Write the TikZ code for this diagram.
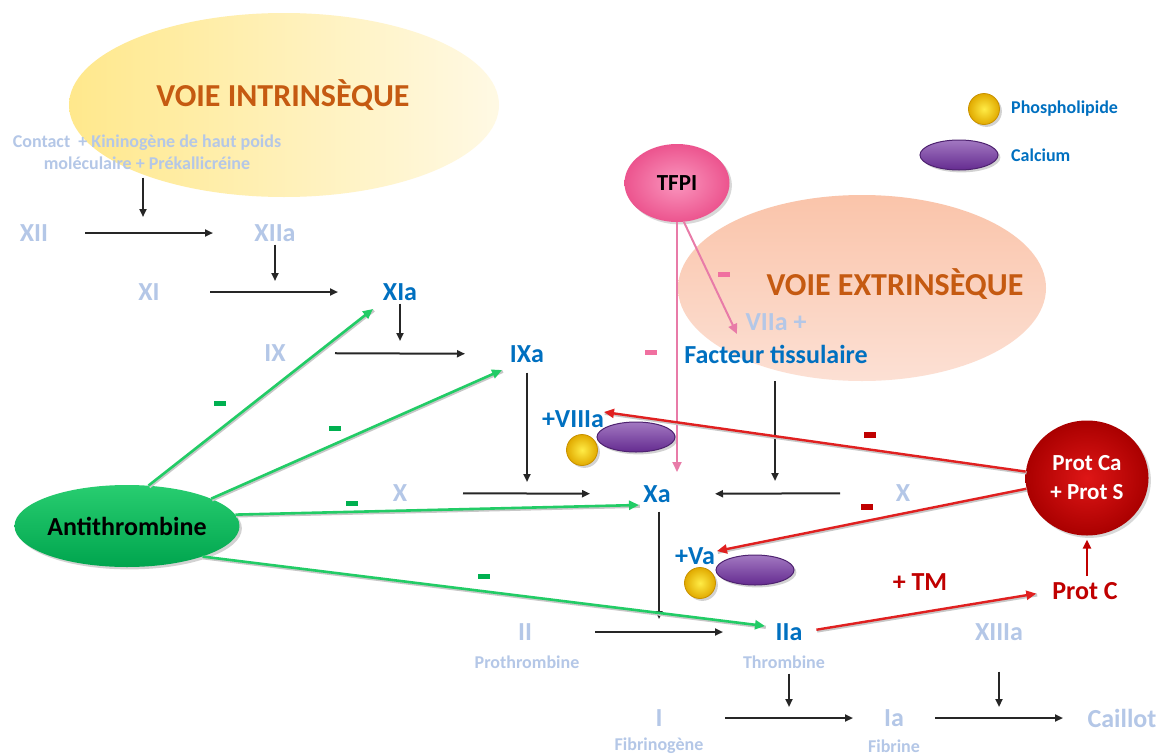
\documentclass[tikz,border=0pt]{standalone}
\usepackage{fontspec}
\setmainfont{Carlito}
\usetikzlibrary{arrows.meta,shapes.geometric,shadows}
\definecolor{pale}{HTML}{B4C7E7}
\definecolor{act}{HTML}{0070C0}
\definecolor{orng}{HTML}{C55A11}
\definecolor{dred}{HTML}{C00000}
\definecolor{gline}{HTML}{22CC66}
\definecolor{gdash}{HTML}{00B050}
\definecolor{rline}{HTML}{E02020}
\definecolor{pline}{HTML}{E87BA8}
\definecolor{pdash}{HTML}{F070A0}
\definecolor{purp}{HTML}{7030A0}
\begin{document}
\begin{tikzpicture}[x=1pt,y=-1pt,
  lbl/.style={inner sep=0pt,font=\bfseries\fontsize{26}{28}\selectfont},
  palelbl/.style={lbl,text=pale},
  actlbl/.style={lbl,text=act},
  smalllbl/.style={inner sep=0pt,font=\bfseries\fontsize{18}{22}\selectfont,text=pale},
  title/.style={inner sep=0pt,font=\bfseries\fontsize{32}{34}\selectfont,text=orng},
  minus/.style={rectangle,inner sep=0pt,minimum width=12pt,minimum height=5pt},
  lineshadow/.style={preaction={draw=black!22,line width=3.2pt,-,transform canvas={xshift=0.8pt,yshift=-1.3pt}}},
  rxn/.style={-{Triangle[length=8pt,width=7pt]},line width=2pt,black!85},
  garr/.style={-{Triangle[length=10pt,width=9pt]},line width=2.6pt,gline,lineshadow},
  rarr/.style={-{Triangle[length=10pt,width=9pt]},line width=2.4pt,rline,lineshadow},
  parr/.style={-{Triangle[length=10pt,width=9pt]},line width=2pt,pline},
  calc/.style={ellipse,minimum width=78pt,minimum height=30pt,draw=purp!70!black,line width=1pt,top color=purp!65!white,bottom color=purp!90!black,drop shadow={opacity=0.35}},
  phos/.style={circle,minimum size=31pt,inner sep=0pt,draw={rgb,255:red,200;green,145;blue,0},line width=0.8pt,
    inner color={rgb,255:red,255;green,236;blue,70},outer color={rgb,255:red,225;green,170;blue,0},drop shadow={opacity=0.35}}]
\useasboundingbox (0,0) rectangle (1170,755);
\fill[white] (0,0) rectangle (1170,755);

% pathway backgrounds
\node[ellipse,minimum width=430pt,minimum height=184pt,inner sep=0pt,
  left color={rgb,255:red,255;green,232;blue,140},right color={rgb,255:red,255;green,249;blue,228}] (intr) at (284,105) {};
\node[ellipse,minimum width=368pt,minimum height=186pt,inner sep=0pt,
  top color={rgb,255:red,250;green,196;blue,170},bottom color={rgb,255:red,252;green,224;blue,212}] (extr) at (862,288) {};
\node[title] (tintr) at (283,95) {VOIE INTRINSÈQUE};
\node[title] (textr) at (895,284) {VOIE EXTRINSÈQUE};

% legend
\node[phos] (lphos) at (984,109) {};
\node[inner sep=0pt,anchor=west,font=\bfseries\fontsize{18}{22}\selectfont,text=act] (tphos) at (1011,109) {Phospholipide};
\node[calc] (lcalc) at (959,155) {};
\node[inner sep=0pt,anchor=west,font=\bfseries\fontsize{18}{22}\selectfont,text=act] (tcalc) at (1011,155) {Calcium};

% cascade labels
\node[smalllbl,align=center] (contact) at (147,152) {Contact\ \ + Kininogène de haut poids\\moléculaire + Prékallicréine};
\node[palelbl] (XII) at (34,233) {XII};
\node[palelbl] (XIIa) at (275,233) {XIIa};
\node[palelbl] (XI) at (149,292) {XI};
\node[actlbl] (XIa) at (400,292) {XIa};
\node[palelbl] (IX) at (275,353) {IX};
\node[actlbl] (IXa) at (527,354) {IXa};
\node[palelbl] (X) at (400,493) {X};
\node[actlbl] (Xa) at (657,494) {Xa};
\node[palelbl] (X2) at (903,493) {X};
\node[palelbl] (VIIa) at (776,322) {VIIa +};
\node[actlbl] (FT) at (776,354) {Facteur tissulaire};
\node[actlbl] (VIIIa) at (573,419) {+VIIIa};
\node[actlbl] (Va) at (695,556) {+Va};
\node[palelbl] (II) at (525,632) {II};
\node[actlbl] (IIa) at (789,632) {IIa};
\node[smalllbl] (prothr) at (527,662) {Prothrombine};
\node[smalllbl] (thr) at (784,662) {Thrombine};
\node[palelbl] (XIIIa) at (999,632) {XIIIa};
\node[palelbl] (I) at (659,718) {I};
\node[palelbl] (Ia) at (894,718) {Ia};
\node[palelbl] (caillot) at (1122,718) {Caillot};
\node[smalllbl] (fibrinog) at (659,746) {Fibrinogène};
\node[smalllbl] (fibrine) at (894,746) {Fibrine};

% cofactor complexes
\node[calc] (calc1) at (636,437) {};
\node[phos] (phos1) at (582,450) {};
\node[calc] (calc2) at (755,570) {};
\node[phos] (phos2) at (700,583) {};

% reaction arrows
\draw[rxn,shorten <=51pt,shorten >=62pt] (XII.center) -- (XIIa.center);
\draw[rxn,shorten <=61pt,shorten >=62pt] (XI.center) -- (XIa.center);
\draw[rxn,shorten <=60pt,shorten >=62pt] (IX.center) -- (IXa.center);
\draw[rxn,shorten <=63pt,shorten >=67pt] (X.center) -- (Xa.center);
\draw[rxn,shorten <=63pt,shorten >=58pt] (X2.center) -- (Xa.center);
\draw[rxn,shorten <=70pt,shorten >=66pt] (II.center) -- (IIa.center);
\draw[rxn,shorten <=66pt,shorten >=41pt] (I.center) -- (Ia.center);
\draw[rxn,shorten <=41pt,shorten >=59pt] (Ia.center) -- (caillot.center);

% catalytic arrows
\coordinate (k1) at (143,217);
\coordinate (k2) at (275,281);
\coordinate (k3) at (400,341);
\coordinate (k4) at (527,482);
\coordinate (k5) at (775,481);
\coordinate (k6) at (659,619);
\coordinate (k7) at (789,707);
\coordinate (k8) at (999,707);
\draw[rxn] (contact.south -| k1) ++(0,8) -- (k1);
\draw[rxn,shorten <=3pt] (XIIa.south -| k2) -- (k2);
\draw[rxn,shorten <=3pt] (XIa.south -| k3) -- (k3);
\draw[rxn,shorten <=10pt] (IXa.south -| k4) -- (k4);
\draw[rxn,shorten <=18pt] (FT.south -| k5) -- (k5);
\draw[rxn,shorten <=9pt] (Xa.south -| k6) -- (k6);
\draw[rxn,shorten <=5pt] (thr.south -| k7) -- (k7);
\draw[rxn,shorten <=31pt] (XIIIa.south -| k8) -- (k8);

% TFPI
\node[ellipse,minimum width=105pt,minimum height=78pt,inner sep=0pt,
  inner color={rgb,255:red,250;green,150;blue,190},outer color={rgb,255:red,236;green,84;blue,142},
  font=\bfseries\fontsize{23}{25}\selectfont,drop shadow={opacity=0.3}] (TFPI) at (677,183) {TFPI};
\coordinate (p1) at (677,472);
\coordinate (p2) at (737,334);
\draw[parr] (TFPI.south -| p1) -- (p1);
\draw[parr] (TFPI.-80) -- (p2);
\node[minus,fill=pdash] (pm1) at (724,274) {};
\node[minus,fill=pdash] (pm2) at (651,352) {};

% Antithrombine
\node[ellipse,minimum width=217pt,minimum height=82pt,inner sep=0pt,
  top color={rgb,255:red,40;green,205;blue,112},bottom color={rgb,255:red,0;green,165;blue,78},
  font=\bfseries\fontsize{26}{28}\selectfont,drop shadow={opacity=0.35}] (AT) at (127,526) {Antithrombine};
\coordinate (g1) at (373,309);
\coordinate (g2) at (502,370);
\coordinate (g3) at (639,505);
\coordinate (g4) at (765,626);
\draw[garr] (AT.62) -- (g1);
\draw[garr] (AT.18) -- (g2);
\draw[garr] (AT.6) -- (g3);
\draw[garr] (AT.-22) -- (g4);
\node[minus,fill=gdash] (gm1) at (220,403) {};
\node[minus,fill=gdash] (gm2) at (335,428) {};
\node[minus,fill=gdash] (gm3) at (352,503) {};
\node[minus,fill=gdash] (gm4) at (484,576) {};

% Protein C system
\node[ellipse,minimum width=123pt,minimum height=115pt,inner sep=0pt,align=center,text=white,
  inner color={rgb,255:red,222;green,22;blue,22},outer color={rgb,255:red,170;green,0;blue,0},
  font=\bfseries\fontsize{23}{29}\selectfont,drop shadow={opacity=0.3}] (ProtCa) at (1087,478) {Prot Ca\\+ Prot S};
\node[lbl,text=dred] (ProtC) at (1085,591) {Prot C};
\node[lbl,text=dred] (TM) at (920,582) {+ TM};
\coordinate (r1) at (604,412);
\coordinate (r2) at (717,551);
\draw[rarr] (ProtCa.174) -- (r1);
\draw[rarr] (ProtCa.190) -- (r2);
\draw[rarr,shorten <=14pt,shorten >=16pt] (IIa.east) -- (ProtC.west);
\draw[-{Triangle[length=9pt,width=8pt]},line width=2.4pt,dred,shorten <=6pt,shorten >=4pt] (ProtCa.south |- ProtC.north) -- (ProtCa.south);
\node[minus,minimum height=6pt,fill=dred] (rm1) at (870,435) {};
\node[minus,minimum height=6pt,fill=dred] (rm2) at (867,507) {};
\end{tikzpicture}
\end{document}
